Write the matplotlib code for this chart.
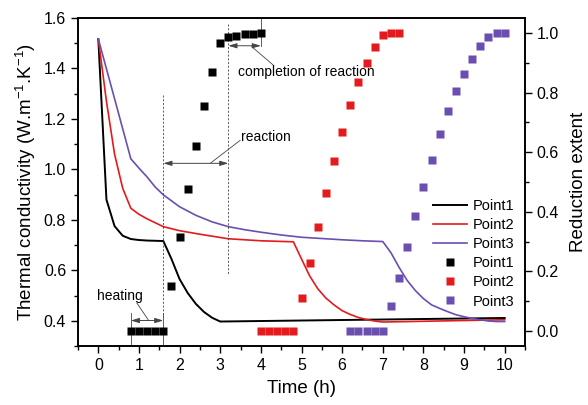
import matplotlib
matplotlib.use('Agg')
import matplotlib.pyplot as plt

plt.rcParams['font.family'] = ['Liberation Sans', 'DejaVu Sans']
plt.rcParams['mathtext.fontset'] = 'custom'
plt.rcParams['mathtext.rm'] = 'Liberation Sans'
plt.rcParams['mathtext.it'] = 'Liberation Sans:italic'

# thermal conductivity curves (left axis)
t1 = [0, 0.2, 0.4, 0.6, 0.8, 1.0, 1.2, 1.4, 1.6, 1.8, 2.0, 2.2, 2.4, 2.6, 2.8, 3.0, 4, 5, 6, 7, 8, 9, 10]
k1 = [1.517, 0.88, 0.775, 0.737, 0.724, 0.72, 0.718, 0.717, 0.716, 0.645, 0.565, 0.51, 0.467,
      0.435, 0.412, 0.397, 0.399, 0.401, 0.403, 0.405, 0.407, 0.409, 0.411]
t2 = [0, 0.2, 0.4, 0.6, 0.8, 1.0, 1.2, 1.6, 2.0, 2.5, 3.2, 4.0, 4.8, 5.0, 5.2, 5.4, 5.6, 5.8,
      6.0, 6.2, 6.4, 6.6, 6.8, 7.0, 8, 9, 10]
k2 = [1.517, 1.27, 1.06, 0.925, 0.846, 0.822, 0.804, 0.773, 0.757, 0.743, 0.725, 0.717, 0.713,
      0.645, 0.578, 0.527, 0.49, 0.463, 0.44, 0.425, 0.413, 0.405, 0.399, 0.395, 0.398, 0.401, 0.404]
t3 = [0, 0.4, 0.8, 1.0, 1.2, 1.4, 1.6, 2.0, 2.4, 2.8, 3.2, 3.6, 4.0, 4.5, 5.0, 5.5, 6.0, 6.5, 7.0,
      7.2, 7.4, 7.6, 7.8, 8.0, 8.2, 8.4, 8.6, 8.8, 9.0, 9.2, 9.4, 9.6, 9.8, 10]
k3 = [1.517, 1.28, 1.042, 1.005, 0.97, 0.93, 0.899, 0.852, 0.818, 0.792, 0.773, 0.761, 0.751, 0.74,
      0.731, 0.726, 0.721, 0.717, 0.714, 0.67, 0.612, 0.56, 0.52, 0.488, 0.463, 0.449, 0.436,
      0.424, 0.416, 0.409, 0.404, 0.399, 0.397, 0.397]

# reduction extent (right axis)
x1s = [0.8, 1.0, 1.2, 1.4, 1.6, 1.8, 2.0, 2.2, 2.4, 2.6, 2.8, 3.0, 3.2, 3.4, 3.6, 3.8, 4.0]
r1 = [0, 0, 0, 0, 0, 0.15, 0.315, 0.476, 0.62, 0.754, 0.868, 0.965, 0.985, 0.99, 0.996, 0.998, 1.0]
x2s = [4.0, 4.2, 4.4, 4.6, 4.8, 5.0, 5.2, 5.4, 5.6, 5.8, 6.0, 6.2, 6.4, 6.6, 6.8, 7.0, 7.2, 7.4]
r2 = [0, 0, 0, 0, 0, 0.112, 0.228, 0.348, 0.462, 0.569, 0.668, 0.757, 0.835, 0.899, 0.952, 0.994, 1.0, 1.0]
x3s = [6.2, 6.4, 6.6, 6.8, 7.0, 7.2, 7.4, 7.6, 7.8, 8.0, 8.2, 8.4, 8.6, 8.8, 9.0, 9.2, 9.4, 9.6, 9.8, 10.0]
r3 = [0, 0, 0, 0, 0, 0.085, 0.177, 0.282, 0.385, 0.484, 0.575, 0.66, 0.737, 0.805, 0.863, 0.913,
      0.955, 0.986, 1.0, 1.0]

c1 = 'black'
c2 = '#e41a1c'
c3 = '#6a4fb0'
gray = '#444444'

fig = plt.figure(figsize=(5.88, 4.05), dpi=100)
ax = fig.add_axes([78/588, 1-346/405, (525-78)/588, (346-18)/405])
ax2 = ax.twinx()

l1, = ax.plot(t1, k1, color=c1, lw=1.4)
l2, = ax.plot(t2, k2, color=c2, lw=1.2)
l3, = ax.plot(t3, k3, color=c3, lw=1.2)

s1, = ax2.plot(x1s, r1, 's', color=c1, ms=6, mec='none')
s2, = ax2.plot(x2s, r2, 's', color=c2, ms=6, mec='none')
s3, = ax2.plot(x3s, r3, 's', color=c3, ms=6, mec='none')

ax.set_xlim(-0.5, 10.5)
ax.set_ylim(0.3, 1.6)
ax2.set_ylim(-0.05, 1.05)
ax.set_xticks(range(0, 11))
ax.set_xticks([i + 0.5 for i in range(-1, 11)], minor=True)
ax.set_yticks([0.4, 0.6, 0.8, 1.0, 1.2, 1.4, 1.6])
ax.set_yticks([0.3, 0.5, 0.7, 0.9, 1.1, 1.3, 1.5], minor=True)
ax2.set_yticks([0.0, 0.2, 0.4, 0.6, 0.8, 1.0])
ax2.set_yticks([0.1, 0.3, 0.5, 0.7, 0.9], minor=True)

for a in (ax, ax2):
    a.tick_params(which='major', direction='out', length=5, width=1, labelsize=11.5)
    a.tick_params(which='minor', direction='out', length=3, width=1)
    for sp in a.spines.values():
        sp.set_linewidth(1.2)
ax.tick_params(axis='x', pad=4)

ax.set_xlabel('Time (h)', fontsize=13.5, labelpad=5)
ax.set_ylabel('Thermal conductivity (W.m$^{-1}$.K$^{-1}$)', fontsize=13.5, labelpad=4)
ax2.set_ylabel('Reduction extent', fontsize=13.5, labelpad=8)

# guide lines
ax.plot([1.6, 1.6], [1.295, 0.416], ls=(0, (2.5, 2)), color=gray, lw=0.6)
ax.plot([3.2, 3.2], [1.576, 0.582], ls=(0, (2.5, 2)), color=gray, lw=0.6)
ax.plot([0.8, 0.8], [0.3, 0.43], color=gray, lw=0.6)
ax.plot([1.6, 1.6], [0.3, 0.43], color=gray, lw=0.6)
ax.plot([4.0, 4.0], [1.6, 1.489], color=gray, lw=0.6)

arrow = dict(arrowstyle='<|-|>,head_length=0.5,head_width=0.15', color=gray, lw=0.7,
             shrinkA=0, shrinkB=0)
ax.annotate('', xy=(0.8, 0.401), xytext=(1.6, 0.401), arrowprops=arrow)
ax.annotate('', xy=(1.6, 1.024), xytext=(3.2, 1.024), arrowprops=arrow)
ax.annotate('', xy=(3.2, 1.49), xytext=(4.0, 1.49), arrowprops=arrow)

ax.plot([0.95, 1.24], [0.47, 0.401], color=gray, lw=0.6)
ax.plot([2.77, 3.49], [1.026, 1.115], color=gray, lw=0.6)
ax.plot([3.78, 4.3], [1.486, 1.414], color=gray, lw=0.6)

ax.text(0.54, 0.499, 'heating', fontsize=10, ha='center', va='center')
ax.text(3.5, 1.13, 'reaction', fontsize=10, ha='left', va='center')
ax.text(3.44, 1.387, 'completion of reaction', fontsize=10, ha='left', va='center')

leg = ax2.legend([l1, l2, l3, s1, s2, s3], ['Point1', 'Point2', 'Point3', 'Point1', 'Point2', 'Point3'],
                 loc='upper left', bbox_to_anchor=(433/588, 1-199/405), bbox_transform=fig.transFigure,
                 frameon=False, fontsize=10.5, handlelength=2.3, handletextpad=0.4, labelspacing=0.35,
                 borderpad=0, borderaxespad=0)

fig.savefig('out.png', dpi=100)
